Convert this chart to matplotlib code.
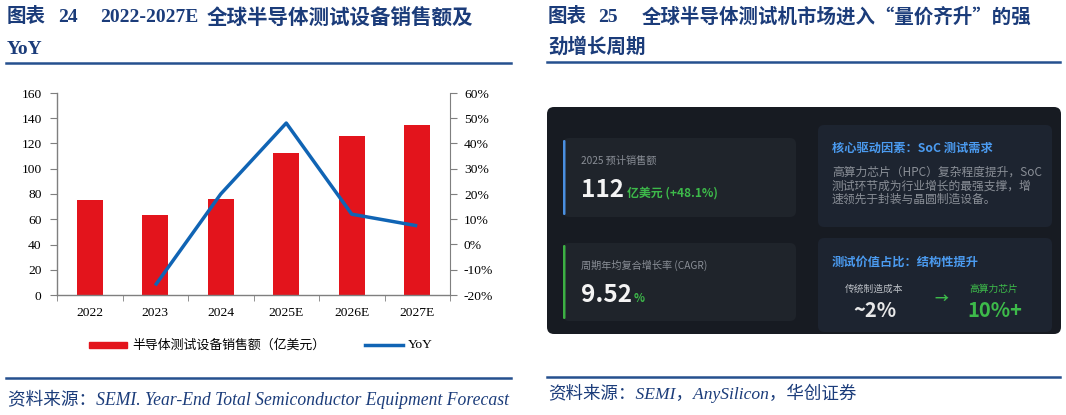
import matplotlib
matplotlib.use("Agg")
import matplotlib.pyplot as plt
from matplotlib.patches import FancyBboxPatch, Rectangle
from matplotlib.lines import Line2D
from matplotlib.ticker import FuncFormatter

# ---------------- data ----------------
years = ["2022", "2023", "2024", "2025E", "2026E", "2027E"]
sales = [75.4, 63.2, 75.9, 112.1, 125.6, 134.9]          # 亿美元
yoy_years = ["2023", "2024", "2025E", "2026E", "2027E"]
yoy = [-0.162, 0.20, 0.481, 0.12, 0.074]
left_ticks = [0, 20, 40, 60, 80, 100, 120, 140, 160]
right_ticks = [-0.2, -0.1, 0.0, 0.1, 0.2, 0.3, 0.4, 0.5, 0.6]

W, H = 1066, 415
fig = plt.figure(figsize=(W / 100, H / 100), dpi=100)
fig.patch.set_facecolor("white")

SERIF = ["Liberation Serif", "Noto Sans CJK SC"]
CJK = ["Noto Sans CJK SC", "DejaVu Sans"]
NAVY = "#1b3c7a"
LINE_NAVY = "#25508f"

# overlay axes in pixel coordinates
ov = fig.add_axes([0, 0, 1, 1], zorder=0)
ov.set_xlim(0, W)
ov.set_ylim(H, 0)
ov.axis("off")


def fx(x):
    return x / W


def fy(y):
    return 1 - y / H


# ---------------- left chart ----------------
ax = fig.add_axes([fx(57), fy(295), (450 - 57) / W, (295 - 93) / H], zorder=2)
ax.patch.set_visible(False)
xpos = list(range(len(years)))
ax.bar(xpos, sales, width=0.4, color="#e3141c", zorder=2)
ax.set_xlim(-0.5, len(years) - 0.5)
ax.set_ylim(0, 160)
ax.set_yticks(left_ticks)
ax.set_xticks(xpos)
ax.set_xticklabels(years)
ax.set_xticks([i - 0.5 for i in range(len(years) + 1)], minor=True)
ax.tick_params(axis="x", which="major", length=0, pad=9, labelsize=9.7, labelcolor="black")
ax.tick_params(axis="x", which="minor", length=4, color="#7f7f7f", direction="out")
ax.tick_params(axis="y", length=5, color="#7f7f7f", direction="out", pad=6, labelsize=9.7)
for lab in ax.get_xticklabels() + ax.get_yticklabels():
    lab.set_family(SERIF)
for s in ["top", "right"]:
    ax.spines[s].set_visible(False)
for s in ["left", "bottom"]:
    ax.spines[s].set_color("#7f7f7f")
    ax.spines[s].set_linewidth(1)

ax2 = ax.twinx()
ax2.patch.set_visible(False)
ax2.plot([years.index(y) for y in yoy_years], yoy, color="#1064b4", lw=2.5, zorder=3,
         solid_capstyle="butt")
ax2.set_ylim(-0.2, 0.6)
ax2.set_yticks(right_ticks)
ax2.yaxis.set_major_formatter(FuncFormatter(lambda v, p: f"{v * 100:.0f}%"))
ax2.tick_params(axis="y", length=5, color="#7f7f7f", direction="out", pad=5, labelsize=9.7)
for lab in ax2.get_yticklabels():
    lab.set_family(SERIF)
for s in ["top", "left", "bottom"]:
    ax2.spines[s].set_visible(False)
ax2.spines["right"].set_color("#7f7f7f")

# legend (manual)
ov.add_patch(Rectangle((89, 342), 38, 6, color="#e3141c"))
ov.text(132, 345, "半导体测试设备销售额（亿美元）", family=CJK, fontsize=9.3, va="center", ha="left",
        color="black")
ov.add_line(Line2D([365, 403], [345, 345], color="#1064b4", lw=2.5))
ov.text(408, 345, "YoY", family=SERIF, fontsize=9.7, va="center", ha="left", color="black")

# ---------------- titles ----------------
TS = 14
ov.text(7, 17, "图表", family=CJK, fontsize=TS, weight="bold", color=NAVY, va="center")
ov.text(58, 17, "24", family=SERIF, fontsize=TS, weight="bold", color=NAVY, va="center")
ov.text(100, 17, "2022-2027E", family=SERIF, fontsize=TS, weight="bold", color=NAVY, va="center")
ov.text(207, 17, "全球半导体测试设备销售额及", family=CJK, fontsize=14.8, weight="bold", color=NAVY,
        va="center")
ov.text(7, 49, "YoY", family=SERIF, fontsize=TS, weight="bold", color=NAVY, va="center")

ov.text(548, 17, "图表", family=CJK, fontsize=TS, weight="bold", color=NAVY, va="center")
ov.text(598, 17, "25", family=SERIF, fontsize=TS, weight="bold", color=NAVY, va="center")
ov.text(642, 17, "全球半导体测试机市场进入“量价齐升”的强", family=CJK, fontsize=TS, weight="bold",
        color=NAVY, va="center")
ov.text(548, 47, "劲增长周期", family=CJK, fontsize=TS, weight="bold", color=NAVY, va="center")

# divider lines
for x0, x1, y in [(6, 511, 63), (6, 511, 378), (547, 1060, 62), (547, 1060, 377)]:
    ov.add_line(Line2D([x0, x1], [y, y], color=LINE_NAVY, lw=1.8))

# sources
ov.text(8, 399, "资料来源：SEMI. Year-End Total Semiconductor Equipment Forecast", family=SERIF,
        style="italic", fontsize=12.7, color=NAVY, va="center")
ov.text(548, 393, "资料来源：SEMI，AnySilicon，华创证券", family=SERIF, style="italic", fontsize=12.6,
        color=NAVY, va="center")

# ---------------- dark dashboard ----------------
ov.add_patch(FancyBboxPatch((547, 107), 1061 - 547, 334 - 107,
                            boxstyle="round,pad=0,rounding_size=7", fc="#171b22", ec="none"))


def card(x0, y0, x1, y1, fc):
    ov.add_patch(FancyBboxPatch((x0, y0), x1 - x0, y1 - y0,
                                boxstyle="round,pad=0,rounding_size=6", fc=fc, ec="none"))


card(563, 138, 796, 217, "#1f242b")
card(563, 243, 796, 321, "#1f242b")
card(818, 125, 1052, 227, "#1d2430")
card(818, 238, 1052, 332, "#1d2430")
ov.add_patch(FancyBboxPatch((563, 140), 2.5, 75, boxstyle="round,pad=0,rounding_size=1.2",
                            fc="#4a8fe0", ec="none"))
ov.add_patch(FancyBboxPatch((563, 245), 2.5, 74, boxstyle="round,pad=0,rounding_size=1.2",
                            fc="#3cb043", ec="none"))

GRAY = "#8a8f97"
GREEN = "#3dba4a"
BLUE = "#4b9bf0"

ov.text(581, 160.5, "2025 预计销售额", family=CJK, fontsize=7.3, color=GRAY, va="center")
ov.text(581, 197, "112", family=CJK, fontsize=17.5, weight="bold", color="#f4f4f4", va="baseline")
ov.text(627, 197, "亿美元 (+48.1%)", family=CJK, fontsize=8.6, weight="bold", color=GREEN,
        va="baseline")

ov.text(581, 265, "周期年均复合增长率 (CAGR)", family=CJK, fontsize=7.3, color=GRAY, va="center")
ov.text(581, 302, "9.52", family=CJK, fontsize=17.5, weight="bold", color="#f4f4f4", va="baseline")
ov.text(634, 302, "%", family=CJK, fontsize=8.2, weight="bold", color=GREEN, va="baseline")

ov.text(832, 148, "核心驱动因素：SoC 测试需求", family=CJK, fontsize=8.8, weight="bold", color=BLUE,
        va="center")
ov.text(832, 172.5, "高算力芯片（HPC）复杂程度提升，SoC", family=CJK, fontsize=8.5, color=GRAY,
        va="center")
ov.text(832, 186, "测试环节成为行业增长的最强支撑，增", family=CJK, fontsize=8.5, color=GRAY,
        va="center")
ov.text(832, 199.5, "速领先于封装与晶圆制造设备。", family=CJK, fontsize=8.5, color=GRAY, va="center")

ov.text(832, 262, "测试价值占比：结构性提升", family=CJK, fontsize=8.8, weight="bold", color=BLUE,
        va="center")
ov.text(874, 289, "传统制造成本", family=CJK, fontsize=7, color="#b9bdc3", va="center", ha="center")
ov.text(875, 317, "~2%", family=CJK, fontsize=14.5, weight="bold", color="#e8e8e8", va="baseline",
        ha="center")
ov.text(941, 299, "→", family=CJK, fontsize=10, weight="bold", color=GREEN, va="center", ha="center")
ov.text(994, 289, "高算力芯片", family=CJK, fontsize=7, color=GREEN, va="center", ha="center")
ov.text(995, 317, "10%+", family=CJK, fontsize=14.5, weight="bold", color=GREEN, va="baseline",
        ha="center")

fig.savefig("out.png", dpi=100, facecolor="white")
